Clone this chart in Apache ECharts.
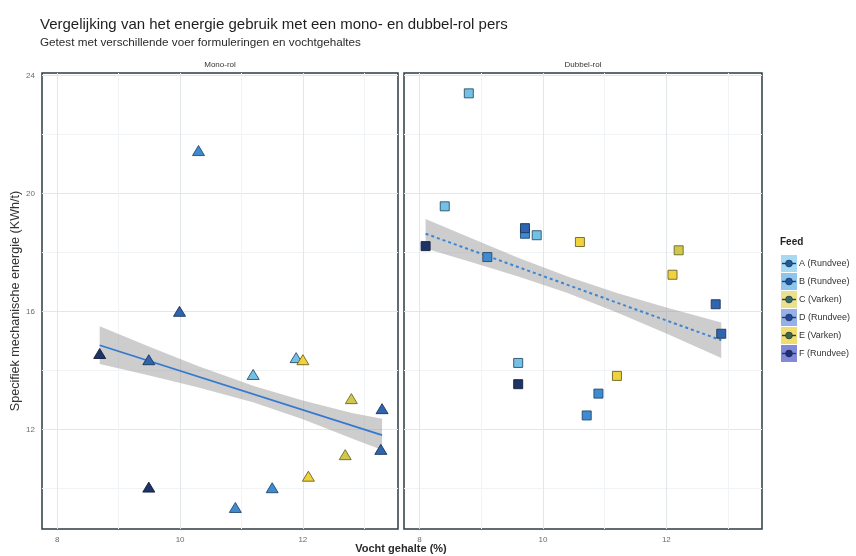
<!DOCTYPE html>
<html><head><meta charset="utf-8">
<script src="https://cdn.jsdelivr.net/npm/echarts@6/dist/echarts.min.js"></script>
<style>html,body{margin:0;padding:0;background:#fff}#c{width:856px;height:556px}</style>
</head><body><div id="c"></div>
<script>
// ---- data ----
const feeds = ['A (Rundvee)', 'B (Rundvee)', 'C (Varken)', 'D (Rundvee)', 'E (Varken)', 'F (Rundvee)'];
const feedCodes = ['A', 'B', 'C', 'D', 'E', 'F'];
const feedColors = ['#74c1e6', '#3f8bcf', '#cfc84a', '#2f64ae', '#f0d23c', '#1e3466'];
const feedBorders = ['#2d4f66', '#244a6e', '#6b6a2a', '#1d3558', '#6e6226', '#131f3c'];
const legendKeyColors = ['#a7d9f2', '#8dc5ef', '#ebe08c', '#95b1e7', '#f1dd6c', '#8289d9'];
const legendGlyphColors = ['#1f5d98', '#1d569c', '#356d58', '#23489b', '#3f6b3c', '#1f2f78'];

// Mono-rol panel
const monoX    = [8.69, 9.49, 9.99, 10.30, 11.19, 11.89, 12.00, 12.79, 13.29, 13.27, 12.69, 12.09, 11.50, 10.90, 9.49];
const monoY    = [14.57, 14.36, 16.00, 21.45, 13.86, 14.43, 14.36, 13.04, 12.70, 11.32, 11.14, 10.41, 10.02, 9.35, 10.04];
const monoFeed = ['F', 'D', 'D', 'B', 'A', 'A', 'E', 'C', 'D', 'D', 'C', 'E', 'B', 'B', 'F'];

// Dubbel-rol panel
const dubbelX    = [8.80, 8.41, 9.71, 9.71, 9.90, 10.60, 8.10, 9.10, 12.20, 12.10, 12.80, 12.89, 9.60, 9.60, 11.20, 10.90, 10.71];
const dubbelY    = [23.39, 19.56, 18.82, 18.63, 18.58, 18.35, 18.21, 17.84, 18.07, 17.24, 16.24, 15.24, 14.25, 13.53, 13.81, 13.21, 12.47];
const dubbelFeed = ['A', 'A', 'D', 'B', 'A', 'E', 'F', 'B', 'C', 'E', 'D', 'D', 'A', 'F', 'E', 'B', 'B'];

// fitted lines and confidence bands
const monoFitX = [8.69, 13.29];
const monoFitY = [14.85, 11.80];
const monoBandX  = [8.69, 9.5, 10.3, 11.2, 12.0, 12.8, 13.29];
const monoBandHi = [15.49, 14.80, 14.14, 13.47, 12.98, 12.55, 12.36];
const monoBandLo = [14.21, 13.82, 13.42, 12.91, 12.34, 11.69, 11.30];

const dubbelFitX = [8.10, 12.89];
const dubbelFitY = [18.63, 15.02];
const dubbelBandX  = [8.10, 8.9, 9.6, 10.4, 11.2, 12.0, 12.89];
const dubbelBandHi = [19.13, 18.43, 17.82, 17.18, 16.62, 16.13, 15.62];
const dubbelBandLo = [18.13, 17.63, 17.18, 16.62, 15.96, 15.25, 14.42];

// axes
const xGridTicks = [8, 9, 10, 11, 12, 13];
const xTickLabels = [8, 10, 12];
const yGridTicks = [10, 12, 14, 16, 18, 20, 22, 24];
const yTickLabels = [12, 16, 20, 24];

const panelTitles = ['Mono-rol', 'Dubbel-rol'];
const mainTitle = 'Vergelijking van het energie gebruik met een mono- en dubbel-rol pers';
const subTitle = 'Getest met verschillende voer formuleringen en vochtgehaltes';
const xName = 'Vocht gehalte (%)';
const yName = 'Specifiek mechanische energie (KWh/t)';
const legendTitle = 'Feed';

// ---- chart ----
const FONT = 'Liberation Sans, Arial, sans-serif';
const chart = echarts.init(document.getElementById('c'), null, {renderer: 'canvas'});

const grids = [
  {left: 42, top: 73, width: 356, height: 456},
  {left: 404, top: 73, width: 358, height: 456}
].map(g => Object.assign(g, {show: true, borderColor: '#2e3b44', borderWidth: 1.5, backgroundColor: '#fff', outerBoundsMode: 'none', containLabel: false}));

const majorC = '#e2e7ea', minorC = '#f1f4f6';
function xAxis(i) {
  return {
    type: 'value', gridIndex: i, min: 7.75, max: 13.55,
    axisLine: {show: false},
    axisTick: {show: false, customValues: xGridTicks},
    axisLabel: {customValues: xTickLabels, color: '#6b6b6b', fontSize: 8, margin: 7, fontFamily: FONT},
    splitLine: {show: true, lineStyle: {color: [majorC, minorC], width: 1}}
  };
}
function yAxis(i) {
  return {
    type: 'value', gridIndex: i, min: 8.62, max: 24.08,
    axisLine: {show: false},
    axisTick: {show: false, customValues: yGridTicks},
    axisLabel: {show: i === 0, customValues: yTickLabels, color: '#6b6b6b', fontSize: 8, margin: 7, fontFamily: FONT},
    splitLine: {show: true, lineStyle: {color: [minorC, majorC], width: 1}},
    name: i === 0 ? yName : '', nameLocation: 'middle', nameGap: 19,
    nameTextStyle: {fontSize: 12.6, color: '#333', fontFamily: FONT}
  };
}

const series = [];
function bandSeries(idx, bx, lo, hi) {
  return {
    type: 'custom', xAxisIndex: idx, yAxisIndex: idx, silent: true, z: 1,
    data: [[bx[0], lo[0]]],
    renderItem: function (params, api) {
      const pts = [];
      for (let i = 0; i < bx.length; i++) pts.push(api.coord([bx[i], hi[i]]));
      for (let i = bx.length - 1; i >= 0; i--) pts.push(api.coord([bx[i], lo[i]]));
      return {type: 'polygon', shape: {points: pts}, style: {fill: 'rgba(150,150,150,0.48)'}};
    }
  };
}
series.push(bandSeries(0, monoBandX, monoBandLo, monoBandHi));
series.push(bandSeries(1, dubbelBandX, dubbelBandLo, dubbelBandHi));
series.push({
  type: 'line', xAxisIndex: 0, yAxisIndex: 0, z: 3, silent: true, showSymbol: false,
  data: monoFitX.map((x, i) => [x, monoFitY[i]]),
  lineStyle: {color: '#3479cf', width: 1.8}
});
series.push({
  type: 'line', xAxisIndex: 1, yAxisIndex: 1, z: 3, silent: true, showSymbol: false,
  data: dubbelFitX.map((x, i) => [x, dubbelFitY[i]]),
  lineStyle: {color: '#3a86d6', width: 2, type: [3, 3]}
});

function addPoints(idx, xs, ys, fs, symbol, size) {
  feedCodes.forEach((code, k) => {
    const pts = [];
    for (let i = 0; i < xs.length; i++) if (fs[i] === code) pts.push([xs[i], ys[i]]);
    series.push({
      type: 'scatter', name: feeds[k], xAxisIndex: idx, yAxisIndex: idx, z: 5,
      symbol: symbol, symbolSize: size, data: pts,
      itemStyle: {color: feedColors[k], borderColor: feedBorders[k], borderWidth: 0.9, opacity: 1}
    });
  });
}
addPoints(0, monoX, monoY, monoFeed, 'triangle', [12, 10]);
addPoints(1, dubbelX, dubbelY, dubbelFeed, 'rect', [9, 9]);

const legendLeft = 781, legendTop = 255, keyW = 16, keyH = 17, keyGap = 1;
const graphics = [];
feeds.forEach((f, i) => {
  const cy = legendTop + keyH / 2 + i * (keyH + keyGap);
  graphics.push({type: 'line', silent: true, z: 100, zlevel: 0,
    shape: {x1: legendLeft + 1, y1: cy, x2: legendLeft + keyW - 1, y2: cy},
    style: {stroke: '#1d3d6c', lineWidth: 1.4}});
  graphics.push({type: 'circle', silent: true, z: 101, zlevel: 0,
    shape: {cx: legendLeft + keyW / 2, cy: cy, r: 3.4},
    style: {fill: legendGlyphColors[i], stroke: '#1a2c50', lineWidth: 0.6}});
});

chart.setOption({
  animation: false,
  backgroundColor: '#fff',
  textStyle: {fontFamily: FONT},
  title: [
    {text: mainTitle, left: 40, top: 17, padding: 0, textStyle: {fontSize: 15, fontWeight: 'normal', color: '#1e1e1e', fontFamily: FONT}},
    {text: subTitle, left: 40, top: 37, padding: 0, textStyle: {fontSize: 11.7, fontWeight: 'normal', color: '#2a2a2a', fontFamily: FONT}},
    {text: panelTitles[0], left: 220, top: 61, padding: 0, textAlign: 'center', textStyle: {fontSize: 8, fontWeight: 'normal', color: '#333', fontFamily: FONT}},
    {text: panelTitles[1], left: 583, top: 61, padding: 0, textAlign: 'center', textStyle: {fontSize: 8, fontWeight: 'normal', color: '#333', fontFamily: FONT}},
    {text: legendTitle, left: 780, top: 237, padding: 0, textStyle: {fontSize: 10, fontWeight: 'bold', color: '#222', fontFamily: FONT}},
    {text: xName, left: 401, top: 543, padding: 0, textAlign: 'center', textStyle: {fontSize: 11, fontWeight: 'bold', color: '#2a2a2a', fontFamily: FONT}}
  ],
  legend: {
    data: feeds.map((f, i) => ({name: f, icon: 'rect', itemStyle: {color: legendKeyColors[i], borderWidth: 0}})),
    orient: 'vertical', left: legendLeft, top: legendTop, padding: 0,
    itemWidth: keyW, itemHeight: keyH, itemGap: keyGap, selectedMode: false,
    textStyle: {fontSize: 9, color: '#333', fontFamily: FONT, padding: [0, 0, 0, -3]}
  },
  grid: grids,
  xAxis: [xAxis(0), xAxis(1)],
  yAxis: [yAxis(0), yAxis(1)],
  series: series,
  graphic: {elements: graphics}
});
</script>
</body></html>
